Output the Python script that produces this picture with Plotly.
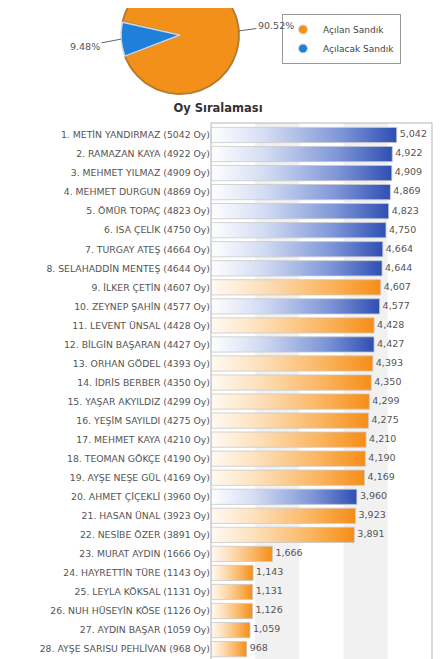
import numpy as np
import plotly.graph_objects as go

# pie: opened / to-be-opened ballot boxes (%)
pie_labels = ["Açılan Sandık", "Açılacak Sandık"]
pie_values = [90.52, 9.48]
pie_colors = ["#f39019", "#1f80d9"]

# candidate ranking
names = [
    "METİN YANDIRMAZ", "RAMAZAN KAYA", "MEHMET YILMAZ", "MEHMET DURGUN",
    "ÖMÜR TOPAÇ", "ISA ÇELİK", "TURGAY ATEŞ", "SELAHADDİN MENTEŞ",
    "İLKER ÇETİN", "ZEYNEP ŞAHİN", "LEVENT ÜNSAL", "BİLGİN BAŞARAN",
    "ORHAN GÖDEL", "İDRİS BERBER", "YAŞAR AKYILDIZ", "YEŞİM SAYILDI",
    "MEHMET KAYA", "TEOMAN GÖKÇE", "AYŞE NEŞE GÜL", "AHMET ÇİÇEKLİ",
    "HASAN ÜNAL", "NESİBE ÖZER", "MURAT AYDIN", "HAYRETTİN TÜRE",
    "LEYLA KÖKSAL", "NUH HÜSEYİN KÖSE", "AYDIN BAŞAR", "AYŞE SARISU PEHLİVAN",
]
votes = [
    5042, 4922, 4909, 4869, 4823, 4750, 4664, 4644, 4607, 4577, 4428, 4427,
    4393, 4350, 4299, 4275, 4210, 4190, 4169, 3960, 3923, 3891, 1666, 1143,
    1131, 1126, 1059, 968,
]
# "b" = blue bar, "o" = orange bar
bar_group = list("bbbbbbbbobobooooooobooooooo" + "o")

labels = [f"{i + 1}. {n} ({v} Oy)" for i, (n, v) in enumerate(zip(names, votes))]

GRADIENTS = {
    "b": [[0, "#ffffff"], [0.3, "#d3dcf3"], [0.7, "#7e96d7"], [1, "#2e4fb3"]],
    "o": [[0, "#fffaf3"], [0.3, "#fde0bb"], [0.7, "#fbb45f"], [1, "#f68d16"]],
}
FONT = "DejaVu Sans"
# page body adds 8px on the left/top, so the figure is 8px smaller
W, H = 438, 651

fig = go.Figure()

# ---- pie (top, partly cut off) ----
start = 166.9  # angle where the small slice begins
shares = np.array(pie_values) / sum(pie_values)
spans = [(start + 360 * shares[1], start + 360), (start, start + 360 * shares[1])]
mids = []
for k, (lab, col) in enumerate(zip(pie_labels, pie_colors)):
    a0, a1 = spans[k]
    t = np.radians(np.linspace(a0, a1, 120))
    mids.append(np.radians((a0 + a1) / 2))
    fig.add_trace(
        go.Scatter(
            x=np.concatenate([[0], np.cos(t), [0]]),
            y=np.concatenate([[0], np.sin(t), [0]]),
            xaxis="x2", yaxis="y2",
            mode="lines", fill="toself", fillcolor=col,
            line=dict(color="#b07a30" if k == 0 else "#cfd6dd", width=1.8 if k == 0 else 1.4),
            showlegend=False, hoverinfo="skip",
        )
    )
    # legend entry
    fig.add_trace(
        go.Scatter(
            x=[None], y=[None], xaxis="x2", yaxis="y2", mode="markers",
            marker=dict(symbol="circle", size=9, color=col,
                        line=dict(color="#d9d9d9", width=1)),
            name=lab,
        )
    )

for k, off in enumerate([(37, -5), (-36, 7)]):
    fig.add_annotation(
        x=np.cos(mids[k]), y=np.sin(mids[k]), xref="x2", yref="y2",
        text=f"{pie_values[k]:.2f}%", showarrow=True, arrowhead=0,
        arrowwidth=1, arrowcolor="#666", ax=off[0], ay=off[1], standoff=0,
        font=dict(family=FONT, size=9.5, color="#555"),
    )

# ---- bars with horizontal gradient ----
for i, (v, g) in enumerate(zip(votes, bar_group)):
    fig.add_trace(
        go.Scatter(
            x=[0, v, v, 0, 0],
            y=[i - 0.4, i - 0.4, i + 0.4, i + 0.4, i - 0.4],
            mode="lines", fill="toself",
            fillgradient=dict(type="horizontal", colorscale=GRADIENTS[g]),
            line=dict(color="#c9c9c9", width=0.8),
            showlegend=False, hoverinfo="skip",
        )
    )

fig.add_trace(
    go.Scatter(
        x=votes, y=list(range(len(votes))), mode="text",
        text=[f" {v:,}" for v in votes], textposition="middle right",
        textfont=dict(family=FONT, size=9.5, color="#555"),
        showlegend=False, hoverinfo="skip",
    )
)

# alternating background bands
for b in range(1200, 6000, 2400):
    fig.add_shape(type="rect", xref="x", yref="y domain", x0=b, x1=b + 1200,
                  y0=0, y1=1, fillcolor="#f1f1f1", line_width=0, layer="below")
fig.add_shape(type="rect", xref="x domain", yref="y domain", x0=0, x1=1,
              y0=-0.05, y1=1, line=dict(color="#b5b5b5", width=1))
fig.add_shape(type="line", xref="paper", yref="paper", x0=434 / W, x1=434 / W,
              y0=0, y1=1 - 84 / H, line=dict(color="#d6d6d6", width=1))

# pie axes: 59 px per unit, centre at (172, 27) px
R = 59.0
fig.update_layout(
    width=W, height=H,
    margin=dict(l=0, r=0, t=0, b=0),
    paper_bgcolor="white", plot_bgcolor="white",
    font=dict(family=FONT, color="#555"),
    title=dict(text="Oy Sıralaması", x=210 / W, y=1 - 100 / H,
               xanchor="center", yanchor="middle",
               font=dict(family=FONT, size=11.5, color="#333", weight="bold")),
    xaxis=dict(domain=[203 / W, 424 / W], range=[0, 6000], showgrid=False,
               zeroline=False, showticklabels=False),
    yaxis=dict(domain=[0, 1 - 115 / H], range=[27.52, -0.63],
               tickvals=list(range(len(labels))), ticktext=labels,
               showgrid=False, zeroline=False, ticks="",
               tickfont=dict(family=FONT, size=9.3, color="#555")),
    xaxis2=dict(domain=[0, 1], range=[-172 / R, (W - 172) / R], visible=False),
    yaxis2=dict(domain=[1 - 89 / H, 1], range=[-(89 - 27) / R, 27 / R], visible=False),
    showlegend=True,
    legend=dict(x=274 / W, y=1 - 6 / H, xanchor="left", yanchor="top",
                bgcolor="white", bordercolor="#999", borderwidth=1,
                font=dict(family=FONT, size=9, color="#444"),
                itemwidth=30, tracegroupgap=0),
)

fig.write_html("out.html")
